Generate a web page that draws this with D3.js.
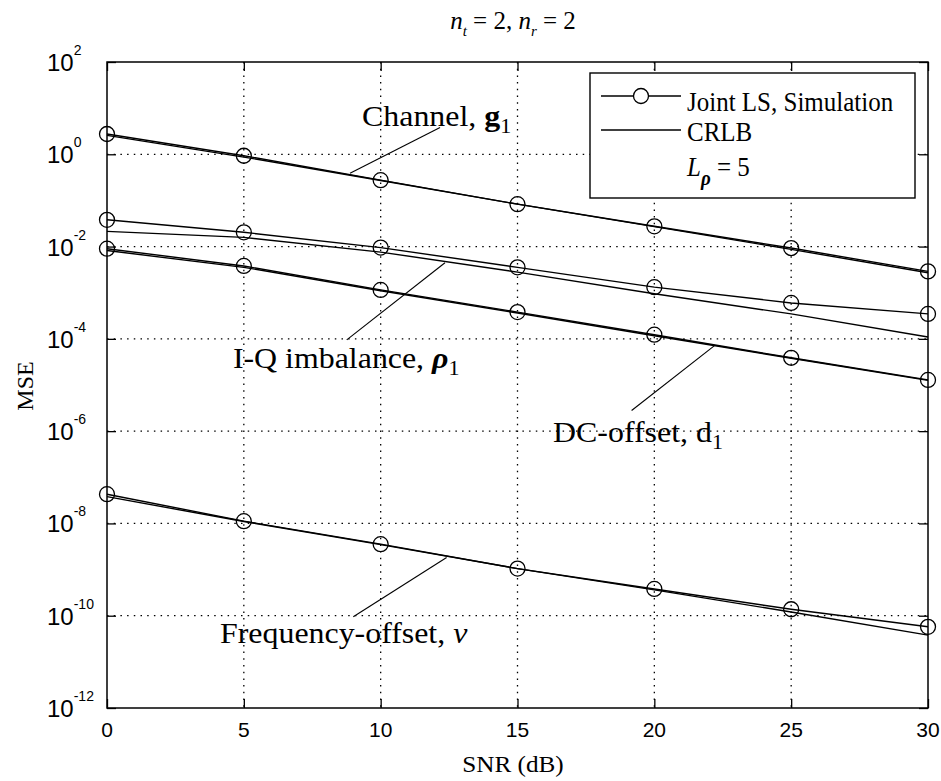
<!DOCTYPE html>
<html>
<head>
<meta charset="utf-8">
<script src="https://cdn.jsdelivr.net/npm/d3@7"></script>
<style>
  body { margin: 0; background: #fff; }
</style>
</head>
<body>
<svg id="fig" width="941" height="781"></svg>
<script>
// SNR points (dB)
var snr = [0, 5, 10, 15, 20, 25, 30];

// MSE
var chanSim  = [2.75, 0.93, 0.275, 0.083, 0.0275, 0.0093, 0.0029];
var chanCrlb = [2.57, 0.87, 0.27, 0.083, 0.027, 0.0087, 0.0027];
var iqSim    = [0.038, 0.0204, 0.0095, 0.00355, 0.00132, 0.0006, 0.000347];
var iqCrlb   = [0.0214, 0.0158, 0.0076, 0.0028, 0.00095, 0.000347, 0.00011];
var dcSim    = [0.009, 0.0038, 0.00115, 0.00038, 0.000123, 0.0000389, 0.0000129];
var dcCrlb   = [0.0082, 0.00355, 0.0011, 0.000363, 0.000117, 0.000038, 0.0000126];
var freqSim  = [4.3e-8, 1.12e-8, 3.55e-9, 1.05e-9, 3.8e-10, 1.38e-10, 5.75e-11];
var freqCrlb = [3.8e-8, 1.1e-8, 3.47e-9, 1.05e-9, 3.63e-10, 1.2e-10, 3.8e-11];

// axis ticks
var xTicks = [0, 5, 10, 15, 20, 25, 30];
var yExps  = [2, 0, -2, -4, -6, -8, -10, -12];

var simSeries  = [chanSim, iqSim, dcSim, freqSim];
var crlbSeries = [chanCrlb, iqCrlb, dcCrlb, freqCrlb];

var svg = d3.select('#fig');
svg.append('rect').attr('width', 941).attr('height', 781).attr('fill', '#fff');

// plot box (note: "top" is reserved on window)
var pL = 107, pR = 928, pT = 62, pB = 708;

var x = d3.scaleLinear().domain([0, 30]).range([pL, pR]);
var y = d3.scaleLog().domain([1e-12, 1e2]).range([pB, pT]);

var serif = '"Liberation Serif", "Times New Roman", serif';
var sans = '"Liberation Sans", Arial, sans-serif';

// text with tspans (sub/superscripts), optional stretch
function addText(g, px, py, parts, o) {
  var tr = 'translate(' + px + ',' + py + ')';
  if (o.rot) tr += ' rotate(' + o.rot + ')';
  tr += ' scale(' + (o.sx || 1) + ',' + (o.sy || 1) + ')';
  var t = g.append('text')
      .attr('transform', tr)
      .attr('font-family', o.family)
      .attr('font-size', o.size)
      .attr('text-anchor', o.anchor || 'start')
      .attr('fill', '#000');
  parts.forEach(function (p) {
    var s = t.append('tspan').text(p.t);
    if (p.w) s.attr('font-weight', p.w);
    if (p.i) s.attr('font-style', 'italic');
    if (p.fs) s.attr('font-size', p.fs);
    if (p.dy) s.attr('dy', p.dy);
  });
  return t;
}

// dotted grid
var grid = svg.append('g')
    .attr('stroke', '#000')
    .attr('stroke-width', 1.3)
    .attr('stroke-dasharray', '1.5,5.2');

grid.selectAll('.gx')
    .data(xTicks.slice(1, -1))
    .enter().append('line')
    .attr('x1', function (d) { return x(d); })
    .attr('x2', function (d) { return x(d); })
    .attr('y1', pT).attr('y2', pB);

grid.selectAll('.gy')
    .data(yExps.slice(1, -1))
    .enter().append('line')
    .attr('y1', function (d) { return y(Math.pow(10, d)); })
    .attr('y2', function (d) { return y(Math.pow(10, d)); })
    .attr('x1', pL).attr('x2', pR);

// inward ticks on all four sides
var tk = 9;
svg.append('g').attr('transform', 'translate(0,' + pB + ')')
    .call(d3.axisBottom(x).tickValues(xTicks).tickSize(-tk).tickFormat(''));
svg.append('g').attr('transform', 'translate(0,' + pT + ')')
    .call(d3.axisTop(x).tickValues(xTicks).tickSize(-tk).tickFormat(''));
var yVals = yExps.map(function (e) { return Math.pow(10, e); });
svg.append('g').attr('transform', 'translate(' + pL + ',0)')
    .call(d3.axisLeft(y).tickValues(yVals).tickSize(-tk).tickFormat(''));
svg.append('g').attr('transform', 'translate(' + pR + ',0)')
    .call(d3.axisRight(y).tickValues(yVals).tickSize(-tk).tickFormat(''));
svg.selectAll('.domain').remove();
svg.selectAll('.tick line').attr('stroke', '#000').attr('stroke-width', 1.3);

// data lines
var line = d3.line()
    .x(function (d, i) { return x(snr[i]); })
    .y(function (d) { return y(d); });

var plot = svg.append('g');

crlbSeries.forEach(function (s) {
  plot.append('path').attr('d', line(s))
      .attr('fill', 'none').attr('stroke', '#000').attr('stroke-width', 1.4);
});

simSeries.forEach(function (s) {
  plot.append('path').attr('d', line(s))
      .attr('fill', 'none').attr('stroke', '#000').attr('stroke-width', 1.4);
  plot.selectAll(null)
      .data(s)
      .enter().append('circle')
      .attr('cx', function (d, i) { return x(snr[i]); })
      .attr('cy', function (d) { return y(d); })
      .attr('r', 7.5)
      .attr('fill', 'none')
      .attr('stroke', '#000')
      .attr('stroke-width', 1.3);
});

// frame
svg.append('rect')
    .attr('x', pL).attr('y', pT)
    .attr('width', pR - pL).attr('height', pB - pT)
    .attr('fill', 'none').attr('stroke', '#000').attr('stroke-width', 1.5);

// tick labels
xTicks.forEach(function (d) {
  addText(svg, x(d), 737, [{t: String(d)}], {family: sans, size: 21, anchor: 'middle'});
});
yExps.forEach(function (e) {
  addText(svg, 47, y(Math.pow(10, e)) + 9,
      [{t: '10'}, {t: String(e), fs: 14, dy: -16}],
      {family: sans, size: 24});
});

// axis labels and title
addText(svg, 513, 772, [{t: 'SNR (dB)'}], {family: serif, size: 24, anchor: 'middle', sx: 1.05});
addText(svg, 33, 386, [{t: 'MSE'}], {family: serif, size: 24, anchor: 'middle', rot: -90});
addText(svg, 513, 29, [
    {t: 'n', i: 1}, {t: 't', i: 1, fs: 15, dy: 7}, {t: ' = 2, ', dy: -7},
    {t: 'n', i: 1}, {t: 'r', i: 1, fs: 15, dy: 7}, {t: ' = 2', dy: -7}
  ], {family: serif, size: 25, anchor: 'middle'});

// curve annotations, positioned in data units
var notes = [
  {at: [9.32, 4.17], from: [8.88, 0.39], to: [12.17, 3.8],
   parts: [{t: 'Channel, '}, {t: 'g', w: 'bold'}, {t: '1', fs: 20, dy: 7}]},
  {at: [4.6, 2.34e-5], from: [8.76, 9.5e-5], to: [12.35, 4.47e-3],
   parts: [{t: 'I-Q imbalance, '}, {t: 'ρ', w: 'bold', i: 1}, {t: '1', fs: 20, dy: 7}]},
  {at: [16.3, 5.8e-7], from: [19.17, 2.8e-6], to: [22.21, 7.2e-5],
   parts: [{t: 'DC-offset, d'}, {t: '1', fs: 20, dy: 7}]},
  {at: [4.13, 2.57e-11], from: [9.0, 9.5e-11], to: [12.41, 1.82e-9],
   parts: [{t: 'Frequency-offset, '}, {t: 'ν', i: 1}]}
];

notes.forEach(function (n) {
  svg.append('line')
      .attr('x1', x(n.from[0])).attr('y1', y(n.from[1]))
      .attr('x2', x(n.to[0])).attr('y2', y(n.to[1]))
      .attr('stroke', '#000').attr('stroke-width', 1.1);
  addText(svg, x(n.at[0]), y(n.at[1]), n.parts, {family: serif, size: 29, sx: 1.1});
});

// legend
var lg = svg.append('g');
lg.append('rect')
    .attr('x', 590).attr('y', 73).attr('width', 325).attr('height', 125)
    .attr('fill', '#fff').attr('stroke', '#000').attr('stroke-width', 1.4);

lg.append('line').attr('x1', 601).attr('x2', 681).attr('y1', 96).attr('y2', 96)
    .attr('stroke', '#000').attr('stroke-width', 1.4);
lg.append('circle').attr('cx', 641).attr('cy', 96).attr('r', 7.5)
    .attr('fill', '#fff').attr('stroke', '#000').attr('stroke-width', 1.3);
addText(lg, 687, 111, [{t: 'Joint LS, Simulation'}], {family: serif, size: 25, sy: 1.12});

lg.append('line').attr('x1', 601).attr('x2', 681).attr('y1', 130).attr('y2', 130)
    .attr('stroke', '#000').attr('stroke-width', 1.4);
addText(lg, 687, 141, [{t: 'CRLB'}], {family: serif, size: 25, sy: 1.12});

addText(lg, 687, 176, [
    {t: 'L', i: 1}, {t: 'ρ', i: 1, w: 'bold', fs: 19, dy: 8}, {t: ' = 5', dy: -8}
  ], {family: serif, size: 25, sy: 1.12});
</script>
</body>
</html>
